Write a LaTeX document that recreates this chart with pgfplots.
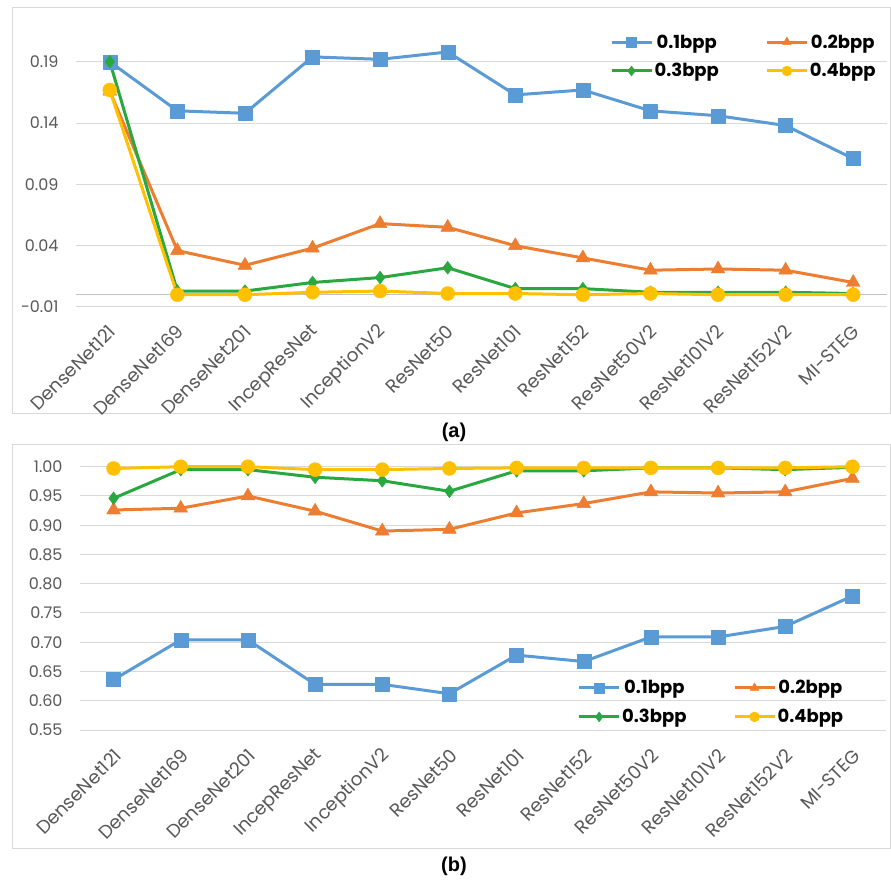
\documentclass[border=0pt]{standalone}
\usepackage{pgfplots}
\usepackage{pgfplotstable}
\pgfplotsset{compat=1.18}
\usepackage{fontspec}
\setmainfont{Poppins}
\newfontfamily\capfont{Liberation Sans}

\definecolor{c1}{HTML}{5B9BD5}
\definecolor{c2}{HTML}{ED7D31}
\definecolor{c3}{HTML}{2AA840}
\definecolor{c4}{HTML}{FFC000}
\definecolor{gridgray}{HTML}{D9D9D9}
\definecolor{labgray}{HTML}{595959}

% panel (a): per-model values for each payload
\pgfplotstableread{
x a b c d
0  0.190 0.166 0.190 0.167
1  0.150 0.036 0.003 0.000
2  0.148 0.024 0.003 0.000
3  0.194 0.038 0.010 0.002
4  0.192 0.058 0.014 0.003
5  0.198 0.055 0.022 0.001
6  0.163 0.040 0.005 0.001
7  0.167 0.030 0.005 0.000
8  0.150 0.020 0.002 0.001
9  0.146 0.021 0.002 0.000
10 0.138 0.020 0.002 0.000
11 0.111 0.010 0.001 0.000
}\tabA

% panel (b)
\pgfplotstableread{
x a b c d
0  0.636 0.926 0.946 0.997
1  0.704 0.929 0.995 1.000
2  0.704 0.950 0.995 1.000
3  0.628 0.924 0.982 0.995
4  0.628 0.890 0.976 0.995
5  0.612 0.893 0.958 0.997
6  0.678 0.921 0.993 0.998
7  0.667 0.937 0.993 0.998
8  0.709 0.957 0.998 0.998
9  0.709 0.955 0.998 0.998
10 0.727 0.957 0.995 0.998
11 0.779 0.980 0.999 1.000
}\tabB

\pgfplotsset{
  panel/.style={
    scale only axis,
    xmin=-0.5, xmax=11.5,
    axis line style={draw=none},
    tick style={draw=none},
    ymajorgrids,
    grid style={gridgray, line width=1pt},
    xtick={0,...,11},
    xticklabels={DenseNet121,DenseNet169,DenseNet201,IncepResNet,InceptionV2,ResNet50,ResNet101,ResNet152,ResNet50V2,ResNet101V2,ResNet152V2,MI-STEG},
    yticklabel style={anchor=east, xshift=-14pt, font=\fontsize{16}{19}\selectfont, text=labgray},
    /pgf/number format/.cd, fixed, fixed zerofill, precision=2, assume math mode=true,
    /pgfplots/.cd,
    clip=false,
    legend columns=2,
    legend style={draw=none, fill=none, inner sep=0pt,
      font=\fontsize{18}{21}\selectfont\bfseries,
      nodes={inner sep=1.5pt},
      /tikz/every even column/.append style={column sep=45pt},
      row sep=11pt},
    legend image code/.code={
      \draw[mark repeat=2, mark phase=2, line width=3pt, mark size=5pt]
        plot coordinates {(0pt,0pt) (20pt,0pt) (40pt,0pt)};
    },
  },
  s1/.style={c1, line width=3pt, line join=round, mark=square*, mark size=7pt, mark options={line width=0.4pt}},
  s2/.style={c2, line width=3pt, line join=round, mark=triangle*, mark size=8pt, mark options={line width=0.4pt}},
  s3/.style={c3, line width=3pt, line join=round, mark=diamond*, mark size=6.5pt, mark options={line width=0.4pt}},
  s4/.style={c4, line width=3pt, line join=round, mark=*, mark size=7pt, mark options={line width=0.4pt}},
}

\begin{document}
\begin{tikzpicture}
\useasboundingbox (0,0) rectangle (891pt,879pt);
\fill[white] (0,0) rectangle (891pt,879pt);

% chart frames
\draw[gridgray, line width=1pt] (12pt,465pt) rectangle (890pt,871pt);
\draw[gridgray, line width=1pt] (12pt,31pt) rectangle (890pt,434pt);

\begin{axis}[panel,
  at={(76pt,572pt)}, anchor=south west,
  width=811pt, height=282pt,
  ymin=-0.01, ymax=0.22,
  ytick={-0.01,0.04,0.09,0.14,0.19},
  extra y ticks={0}, extra y tick labels={},
  extra y tick style={grid style={gridgray!90!black, line width=1pt}},
  xticklabel style={yshift=-19pt, xshift=5pt, rotate=45, anchor=east, font=\fontsize{18.5}{21}\selectfont, text=labgray},
  legend style={at={(0.988,0.972)}, anchor=north east},
]
\addplot[s1] table[x=x,y=a]{\tabA};
\addplot[s2] table[x=x,y=b]{\tabA};
\addplot[s3] table[x=x,y=c]{\tabA};
\addplot[s4] table[x=x,y=d]{\tabA};
\legend{0.1bpp,0.2bpp,0.3bpp,0.4bpp}
\end{axis}

\node[font=\capfont\fontsize{20}{24}\selectfont\bfseries] at (454pt,447pt) {(a)};

\begin{axis}[panel,
  at={(80pt,149pt)}, anchor=south west,
  width=806pt, height=263.3pt,
  ymin=0.55, ymax=1.0,
  ytick={0.55,0.60,...,1.0},
  xticklabel style={yshift=-20pt, xshift=7pt, rotate=45, anchor=east, font=\fontsize{18.5}{21}\selectfont, text=labgray},
  legend style={at={(0.949,0.015)}, anchor=south east},
]
\addplot[s1] table[x=x,y=a]{\tabB};
\addplot[s2] table[x=x,y=b]{\tabB};
\addplot[s3] table[x=x,y=c]{\tabB};
\addplot[s4] table[x=x,y=d]{\tabB};
\legend{0.1bpp,0.2bpp,0.3bpp,0.4bpp}
\end{axis}

\node[font=\capfont\fontsize{20}{24}\selectfont\bfseries] at (454pt,13pt) {(b)};
\end{tikzpicture}
\end{document}
